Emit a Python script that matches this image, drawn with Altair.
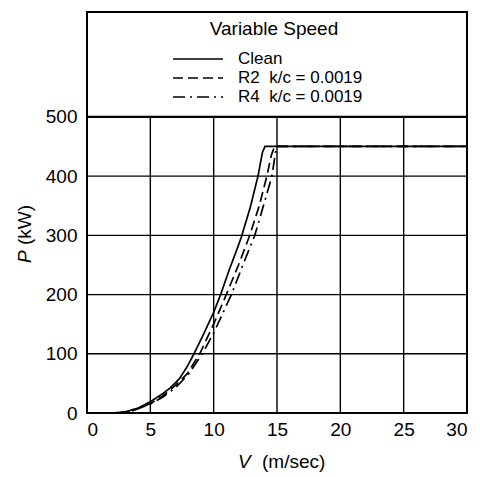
import altair as alt
import pandas as pd

# ---- data ----
V_CLEAN = [0, 2, 3, 4, 5, 6, 6.55, 7.3, 7.9, 8.45, 9.2, 10, 10.55, 11.2, 11.9, 12.2, 12.9, 13.5, 13.85, 14.05, 30]
P_CLEAN = [0, 0, 2, 8, 19, 33, 42, 58, 78, 100, 133, 170, 200, 240, 280, 298, 348, 400, 440, 450, 450]

V_R2 = [0, 2.5, 3.5, 5, 6, 7, 7.9, 8.9, 10, 11.0, 12, 12.85, 13.6, 14.2, 14.55, 14.8, 30]
P_R2 = [0, 0, 3, 16, 29, 47, 66, 100, 150, 200, 252, 300, 350, 400, 435, 450, 450]

V_R4 = [0, 2.5, 3.5, 5, 6, 7, 8, 9.1, 10, 11.4, 12.4, 13.25, 14, 14.6, 14.95, 30]
P_R4 = [0, 0, 3, 15, 27, 43, 65, 100, 135, 200, 255, 300, 355, 400, 450, 450]

SERIES = ["Clean", "R2\u00a0\u00a0k/c = 0.0019", "R4\u00a0\u00a0k/c = 0.0019"]
DASHES = [[1, 0], [10, 5], [12, 5, 2, 5]]
LEGEND_TITLE = "Variable Speed"

X_TICKS = [0, 5, 10, 15, 20, 25, 30]
Y_TICKS = [0, 100, 200, 300, 400, 500]
GRID_X = [5, 10, 15, 20, 25]
GRID_Y = [100, 200, 300, 400]
GRID_TOP = [500]
X_DOMAIN = [0, 30]
Y_DOMAIN = [0, 677]

FONT = "Liberation Sans"
FS = 19
LFS = 17

rows = []
for name, vs, ps in zip(SERIES, [V_CLEAN, V_R2, V_R4], [P_CLEAN, P_R2, P_R4]):
    for i, (v, p) in enumerate(zip(vs, ps)):
        rows.append({"series": name, "V": v, "P": p, "order": i})
curves = pd.DataFrame(rows)

xs = alt.Scale(domain=X_DOMAIN, nice=False, zero=False)
ys = alt.Scale(domain=Y_DOMAIN, nice=False, zero=False)

xaxis = alt.Axis(values=X_TICKS, title=None, labelPadding=7, format="d")
yaxis = alt.Axis(values=Y_TICKS, title=None, labelPadding=10, format="d")

vgrid = alt.Chart(pd.DataFrame({"gx": GRID_X, "y0": [0] * len(GRID_X), "y1": [500] * len(GRID_X)})).mark_rule(
    color="black", strokeWidth=1.4
).encode(
    x=alt.X("gx:Q", scale=xs, axis=xaxis),
    y=alt.Y("y0:Q", scale=ys, axis=yaxis),
    y2="y1:Q",
)

hgrid = alt.Chart(pd.DataFrame({"gy": GRID_Y, "x0": [0] * len(GRID_Y), "x1": [30] * len(GRID_Y)})).mark_rule(
    color="black", strokeWidth=1.3
).encode(
    y=alt.Y("gy:Q", scale=ys),
    x=alt.X("x0:Q", scale=xs),
    x2="x1:Q",
)

topline = alt.Chart(pd.DataFrame({"gy": GRID_TOP, "x0": [0], "x1": [30]})).mark_rule(
    color="black", strokeWidth=2.4
).encode(
    y=alt.Y("gy:Q", scale=ys),
    x=alt.X("x0:Q", scale=xs),
    x2="x1:Q",
)

lines = alt.Chart(curves).mark_line(color="black", strokeWidth=1.7).encode(
    x=alt.X("V:Q", scale=xs),
    y=alt.Y("P:Q", scale=ys),
    order="order:Q",
    strokeDash=alt.StrokeDash("series:N", scale=alt.Scale(domain=SERIES, range=DASHES), legend=None),
)

layers = [vgrid, hgrid, topline, lines]

# custom legend inside the top box
layers.append(
    alt.Chart(pd.DataFrame({"t": [LEGEND_TITLE]})).mark_text(
        font=FONT, fontSize=FS, align="center", baseline="middle", color="black"
    ).encode(text="t:N", x=alt.value(187), y=alt.value(17))
)
ROW_Y = [47, 66, 85]
for name, dash, ry in zip(SERIES, DASHES, ROW_Y):
    layers.append(
        alt.Chart(pd.DataFrame({"s": [name]})).mark_rule(color="black", strokeWidth=1.5, strokeDash=dash).encode(
            x=alt.value(86), x2=alt.value(136), y=alt.value(ry)
        )
    )
    layers.append(
        alt.Chart(pd.DataFrame({"t": [name]})).mark_text(
            font=FONT, fontSize=LFS, align="left", baseline="middle", color="black"
        ).encode(text="t:N", x=alt.value(151), y=alt.value(ry))
    )

# axis titles with italic variable symbols
layers += [
    alt.Chart(pd.DataFrame({"t": ["V"]})).mark_text(
        font=FONT, fontSize=FS, fontStyle="italic", align="left", baseline="middle", color="black"
    ).encode(text="t:N", x=alt.value(151), y=alt.value(450)),
    alt.Chart(pd.DataFrame({"t": ["(m/sec)"]})).mark_text(
        font=FONT, fontSize=FS, align="left", baseline="middle", color="black"
    ).encode(text="t:N", x=alt.value(175), y=alt.value(450)),
    alt.Chart(pd.DataFrame({"t": ["P"]})).mark_text(
        font=FONT, fontSize=FS, fontStyle="italic", align="left", baseline="middle", angle=270, color="black"
    ).encode(text="t:N", x=alt.value(-62), y=alt.value(251)),
    alt.Chart(pd.DataFrame({"t": ["(kW)"]})).mark_text(
        font=FONT, fontSize=FS, align="left", baseline="middle", angle=270, color="black"
    ).encode(text="t:N", x=alt.value(-62), y=alt.value(233)),
]

chart = alt.layer(*layers).properties(
    width=380,
    height=401,
    autosize=alt.AutoSizeParams(type="none"),
    padding={"left": 79, "top": 4, "right": 5, "bottom": 64},
    background="white",
).configure_view(
    stroke="black", strokeWidth=2
).configure_axis(
    labelFont=FONT, labelFontSize=FS, labelColor="black", ticks=False, domain=False, grid=False
)

chart.save("out.html", embed_options={"renderer": "svg", "actions": False})
